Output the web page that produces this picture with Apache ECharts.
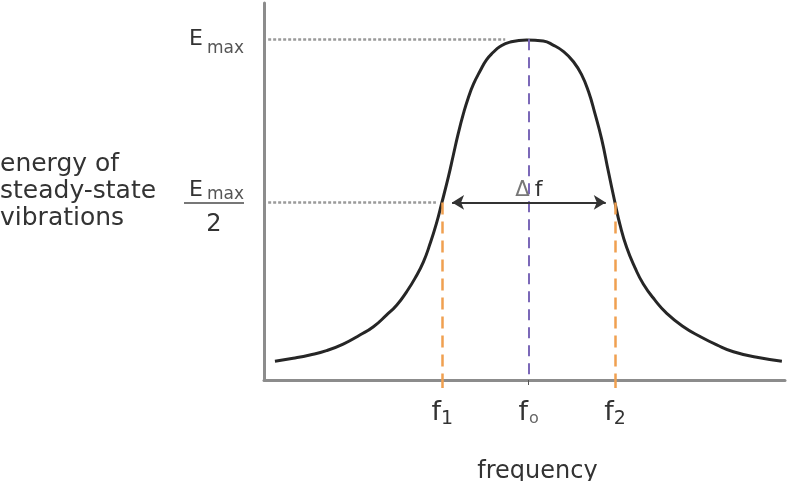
<!DOCTYPE html>
<html>
<head>
<meta charset="utf-8">
<script src="https://cdn.jsdelivr.net/npm/echarts@6/dist/echarts.min.js"></script>
<style>
  html, body { margin: 0; padding: 0; background: #fff; }
  #chart { width: 794px; height: 481px; }
</style>
</head>
<body>
<div id="chart"></div>
<script>
// resonance curve (x: 0..100 frequency units, y: energy units)
const freqX = [2.1, 5.6, 8.8, 12.0, 15.2, 18.4, 21.0, 23.5, 25.5, 27.4, 29.0, 30.6, 31.9, 33.1,
    34.1, 35.4, 36.3, 37.3, 38.3, 39.2, 40.2, 41.5, 42.7, 44.0, 45.3, 47.2, 50.4,
    53.6, 55.5, 57.5, 59.4, 61.0, 62.3, 63.5, 64.8, 66.1,
    67.4, 68.3, 69.6, 71.2, 72.8, 75.0, 77.3, 80.5, 83.7, 86.9, 90.1, 94.6, 99.4]
const energy = [1.2, 2.0, 2.9, 4.1, 5.9, 8.4, 10.7, 13.9, 16.7, 20.4, 24.1, 28.6, 33.7, 39.2,
    44.7, 52.1, 57.8, 64.1, 69.6, 73.8, 77.6, 81.3, 84.3, 86.4, 88.0, 89.2, 89.8,
    89.5, 88.4, 86.6, 83.8, 80.1, 75.5, 69.6, 62.5, 53.5,
    44.7, 39.0, 32.6, 27.0, 22.5, 18.1, 14.4, 10.7, 8.0, 5.7, 3.8, 2.3, 1.2]

const f1 = 34.2
const f0 = 50.8
const f2 = 67.4
const eMax = 90
const eHalf = 45
const eFloor = -4
const arrowFrom = 36.1
const arrowTo = 65.6
const freqTicks = [f1, f0, f2]
const freqTickLabels = ['{f|f}{sub|1}', '{f|f}{o|o}', '{f|f}{sub|2}']
const energyTicks = [eHalf, eMax]

const FONT = 'DejaVu Sans'
const TEXT = '#333333'
const AXIS = '#8c8c8c'
const ORANGE = '#f0a050'

const chart = echarts.init(document.getElementById('chart'))

chart.setOption({
    animation: false,
    grid: { left: 264, right: 9, top: 3, bottom: 101, outerBoundsMode: 'none', containLabel: false },
    xAxis: [
        {
            type: 'value',
            min: 0,
            max: 100,
            name: 'frequency',
            nameLocation: 'middle',
            nameGap: 80,
            nameTextStyle: { fontFamily: FONT, fontSize: 24, color: TEXT, padding: [0, 0, 0, 26] },
            axisLine: { show: true, onZero: false, lineStyle: { color: AXIS, width: 3 } },
            axisTick: { show: true, customValues: [f0], length: 5, lineStyle: { color: '#555', width: 1 } },
            splitLine: { show: false },
            axisLabel: {
                customValues: freqTicks,
                margin: 18,
                formatter: value => freqTickLabels[freqTicks.indexOf(value)] || '',
                rich: {
                    f: { fontFamily: FONT, fontSize: 27, color: TEXT, lineHeight: 30 },
                    sub: { fontFamily: FONT, fontSize: 19, color: TEXT, lineHeight: 20, padding: [12, 0, 0, 0] },
                    o: { fontFamily: FONT, fontSize: 16, color: '#666', lineHeight: 18, padding: [12, 0, 0, 1] },
                },
            },
        },
        {
            // orange dashes running just below the axis at f1 and f2
            type: 'value',
            min: 0,
            max: 100,
            position: 'bottom',
            axisLine: { show: false, onZero: false },
            axisTick: { show: true, customValues: [f1, f2], length: 8, lineStyle: { color: ORANGE, width: 2.5 } },
            axisLabel: { show: false },
            splitLine: { show: false },
        },
    ],
    yAxis: {
        type: 'value',
        min: eFloor,
        max: 100,
        name: 'energy of\nsteady-state\nvibrations',
        nameLocation: 'middle',
        nameRotate: 0,
        nameGap: 264,
        nameTextStyle: { fontFamily: FONT, fontSize: 25, color: TEXT, align: 'left', lineHeight: 27 },
        axisLine: { show: true, onZero: false, lineStyle: { color: AXIS, width: 3 } },
        axisTick: { show: false },
        splitLine: { show: false },
        axisLabel: {
            customValues: energyTicks,
            margin: 20,
            formatter: value => value === eMax
                ? '{e|E}{s|max}'
                : '{ne|E}{ns|max}\n{bar|}\n{two|2}',
            rich: {
                e: { fontFamily: FONT, fontSize: 22, color: TEXT, padding: [0, 4, 0, 0], lineHeight: 28 },
                s: { fontFamily: FONT, fontSize: 17, color: '#555', lineHeight: 22, padding: [18, 0, 0, 0] },
                ne: { fontFamily: FONT, fontSize: 22, color: TEXT, padding: [19, 4, 0, 0], lineHeight: 39 },
                ns: { fontFamily: FONT, fontSize: 17, color: '#555', lineHeight: 39, padding: [29, 0, 0, 0] },
                bar: { width: 60, height: 2, backgroundColor: '#777', lineHeight: 6 },
                two: { fontFamily: FONT, fontSize: 24, color: TEXT, lineHeight: 38, align: 'center' },
            },
        },
    },
    series: [
        {
            type: 'line',
            data: freqX.map((x, i) => [x, energy[i]]),
            smooth: true,
            showSymbol: false,
            clip: false,
            lineStyle: { color: '#262626', width: 3 },
            markLine: {
                silent: true,
                symbol: 'none',
                label: { show: false },
                data: [
                    [
                        { coord: [0.8, eMax], lineStyle: { color: '#9a9a9a', width: 2.5, type: [3, 2] } },
                        { coord: [46.3, eMax] },
                    ],
                    [
                        { coord: [0.8, eHalf], lineStyle: { color: '#9a9a9a', width: 2.5, type: [3, 2] } },
                        { coord: [33, eHalf] },
                    ],
                    [
                        { coord: [f0, eMax], lineStyle: { color: '#7b68b8', width: 2, type: [11, 7] } },
                        { coord: [f0, eFloor] },
                    ],
                    [
                        { coord: [f1, eHalf], lineStyle: { color: ORANGE, width: 2.5, type: [12, 7] } },
                        { coord: [f1, eFloor] },
                    ],
                    [
                        { coord: [f2, eHalf], lineStyle: { color: ORANGE, width: 2.5, type: [12, 7] } },
                        { coord: [f2, eFloor] },
                    ],
                ],
            },
        },
        {
            type: 'line',
            data: [],
            markLine: {
                silent: true,
                symbol: ['arrow', 'arrow'],
                symbolSize: [11, 12],
                lineStyle: { color: '#333', width: 2, type: 'solid' },
                label: {
                    show: true,
                    position: 'middle',
                    formatter: '{d|Δ}{f|f}',
                    distance: 1,
                    rich: {
                        d: { fontFamily: FONT, fontSize: 21, color: '#777', padding: [0, 5, 0, 0] },
                        f: { fontFamily: FONT, fontSize: 22, color: TEXT },
                    },
                },
                data: [[{ coord: [arrowFrom, eHalf] }, { coord: [arrowTo, eHalf] }]],
            },
        },
    ],
})
</script>
</body>
</html>
